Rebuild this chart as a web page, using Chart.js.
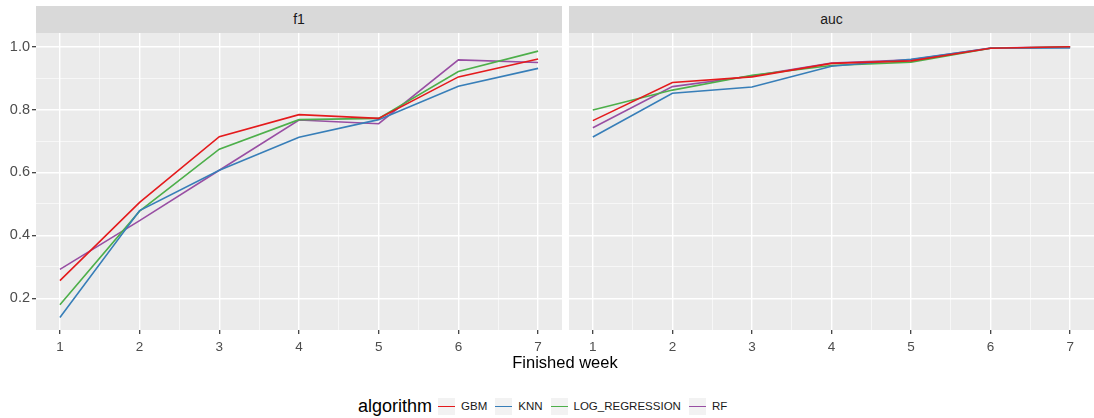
<!DOCTYPE html>
<html>
<head>
<meta charset="utf-8">
<script src="https://cdn.jsdelivr.net/npm/chart.js@4"></script>
<style>
  body { margin: 0; background: #fff; font-family: "Liberation Sans", Arial, sans-serif; }
  #wrap { position: relative; width: 1094px; height: 418px; overflow: hidden; }
  .strip { position: absolute; top: 6px; height: 27px; background: #d9d9d9; color: #1a1a1a;
           font-size: 14px; line-height: 27px; text-align: center; }
  canvas { position: absolute; top: 33px; }
  #xtitle { position: absolute; left: 36px; width: 1058px; top: 353px; text-align: center;
            font-size: 16.5px; color: #000; }
  #legend { position: absolute; left: 358px; top: 396px; height: 20px;
            display: flex; align-items: center; white-space: nowrap; }
  #legend .ttl { font-size: 18px; color: #000; margin-right: 6px; }
  #legend .key { width: 17px; height: 17px; background: #f2f2f2; position: relative; margin-right: 6px; }
  #legend .key i { position: absolute; left: 0; right: 0; top: 8px; height: 1.5px; }
  #legend .lbl { font-size: 11.5px; color: #1a1a1a; margin-right: 8px; }
</style>
</head>
<body>
<div id="wrap">
  <div class="strip" style="left:36px;width:526px;">f1</div>
  <div class="strip" style="left:569px;width:525px;">auc</div>
  <canvas id="f1Chart" width="562" height="325" style="left:0;"></canvas>
  <canvas id="aucChart" width="525" height="325" style="left:569px;"></canvas>
  <div id="xtitle">Finished week</div>
  <div id="legend"></div>
</div>
<script>
const weeks = [1, 2, 3, 4, 5, 6, 7];
const algorithms = ['GBM', 'KNN', 'LOG_REGRESSION', 'RF'];
const algoColors = ['#E41A1C', '#377EB8', '#4DAF4A', '#984EA3'];

// f1 per algorithm
const f1Gbm = [0.256, 0.505, 0.714, 0.784, 0.772, 0.904, 0.961];
const f1Knn = [0.139, 0.479, 0.607, 0.712, 0.768, 0.874, 0.931];
const f1Log = [0.179, 0.477, 0.674, 0.768, 0.772, 0.921, 0.986];
const f1Rf  = [0.292, 0.447, 0.607, 0.767, 0.755, 0.958, 0.950];

// auc per algorithm
const aucGbm = [0.765, 0.886, 0.904, 0.947, 0.955, 0.995, 1.000];
const aucKnn = [0.713, 0.852, 0.872, 0.938, 0.960, 0.995, 0.996];
const aucLog = [0.799, 0.862, 0.909, 0.940, 0.951, 0.995, 0.999];
const aucRf  = [0.742, 0.873, 0.907, 0.948, 0.958, 0.996, 1.000];

const xTicks = [1, 1.5, 2, 2.5, 3, 3.5, 4, 4.5, 5, 5.5, 6, 6.5, 7];
const yTicks = [0.2, 0.3, 0.4, 0.5, 0.6, 0.7, 0.8, 0.9, 1.0];

const isMajorX = v => Number.isInteger(v);
const isMajorY = v => Math.round(v * 10) % 2 === 0;

// grey panel behind the grid
const panelBg = {
    id: 'panelBg',
    beforeDraw(chart) {
        const { ctx, chartArea: a } = chart;
        ctx.save();
        ctx.fillStyle = '#ebebeb';
        ctx.fillRect(a.left, a.top, a.width, a.height);
        ctx.restore();
    }
};

// no extra room for half labels, the panel has to fill the canvas
function noPad(s) {
    s.paddingTop = 0; s.paddingBottom = 0;
    s.paddingLeft = 0; s.paddingRight = 0;
}

function makeDatasets(series) {
    return series.map((vals, i) => ({
        label: algorithms[i],
        data: weeks.map((w, j) => ({ x: w, y: vals[j] })),
        borderColor: algoColors[i],
        backgroundColor: algoColors[i],
        borderWidth: 1.6,
        pointRadius: 0,
        tension: 0
    }));
}

function drawPanel(canvasId, series, showY) {
    const ctx = document.getElementById(canvasId).getContext('2d');
    return new Chart(ctx, {
        type: 'line',
        data: { datasets: makeDatasets(series) },
        plugins: [panelBg],
        options: {
            responsive: false,
            animation: false,
            layout: { padding: 0 },
            plugins: { legend: { display: false }, tooltip: { enabled: false } },
            scales: {
                x: {
                    type: 'linear', min: 0.7, max: 7.3,
                    afterBuildTicks: s => { s.ticks = xTicks.map(v => ({ value: v })); },
                    afterFit: s => { s.height = 28; noPad(s); },
                    border: { display: false },
                    grid: {
                        color: '#ffffff',
                        lineWidth: c => isMajorX(c.tick.value) ? 1.4 : 0.6,
                        tickColor: c => isMajorX(c.tick.value) ? '#333333' : 'rgba(0,0,0,0)',
                        tickWidth: 1.2,
                        tickLength: 4
                    },
                    ticks: {
                        autoSkip: false, maxRotation: 0, padding: 5,
                        color: '#4d4d4d', font: { size: 13.5, family: 'Liberation Sans' },
                        callback: v => isMajorX(v) ? String(v) : ''
                    }
                },
                y: {
                    min: 0.099, max: 1.0436,
                    afterBuildTicks: s => { s.ticks = yTicks.map(v => ({ value: v })); },
                    afterFit: s => { s.width = showY ? 36 : 0; noPad(s); },
                    border: { display: false },
                    grid: {
                        color: '#ffffff',
                        lineWidth: c => isMajorY(c.tick.value) ? 1.4 : 0.6,
                        tickColor: c => isMajorY(c.tick.value) ? '#333333' : 'rgba(0,0,0,0)',
                        tickWidth: 1.2,
                        tickLength: 4,
                        drawTicks: showY
                    },
                    ticks: {
                        display: showY, padding: 2,
                        color: '#4d4d4d', font: { size: 14.5, family: 'Liberation Sans' },
                        callback: v => isMajorY(v) ? v.toFixed(1) : ''
                    }
                }
            }
        }
    });
}

drawPanel('f1Chart', [f1Gbm, f1Knn, f1Log, f1Rf], true);
drawPanel('aucChart', [aucGbm, aucKnn, aucLog, aucRf], false);

// legend
const legend = document.getElementById('legend');
legend.innerHTML = '<span class="ttl">algorithm</span>' + algorithms.map((a, i) =>
    `<span class="key"><i style="background:${algoColors[i]}"></i></span><span class="lbl">${a}</span>`
).join('');
</script>
</body>
</html>
